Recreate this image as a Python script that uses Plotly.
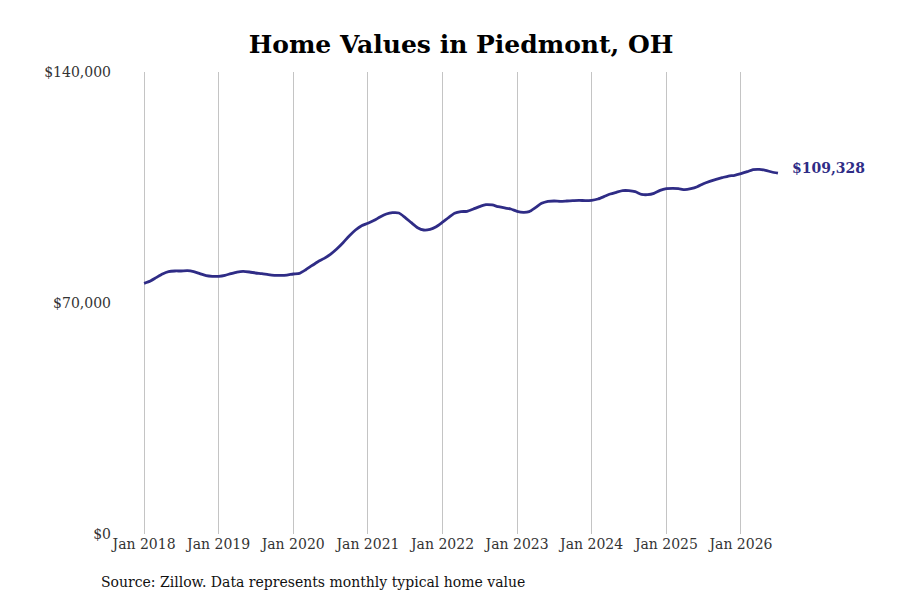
import plotly.graph_objects as go
import pandas as pd

months = pd.date_range("2018-01-01", "2026-07-01", freq="MS")
values = [
    75970, 76670, 77680, 78790, 79490, 79700, 79700, 79800, 79490, 78890, 78280, 78080,
    78080, 78380, 78890, 79390, 79590, 79390, 79090, 78890, 78580, 78380, 78380, 78480,
    78790, 79000, 80000, 81310, 82520, 83530, 84740, 86360, 88280, 90300, 92120, 93430,
    94150, 95050, 96060, 96970, 97370, 97270, 95960, 94350, 92830, 92120, 92320, 93130,
    94500, 95960, 97170, 97680, 97780, 98480, 99190, 99800, 99700, 99190, 98790, 98480,
    97780, 97480, 97680, 98890, 100200, 100810, 100910, 100810, 100910, 101010, 101110, 101010,
    101110, 101520, 102220, 103030, 103540, 104040, 104040, 103740, 102930, 102830, 103230, 104140,
    104650, 104750, 104650, 104340, 104650, 105250, 106160, 106870, 107480, 107980, 108480, 108690,
    109190, 109790, 110400, 110500, 110200, 109700, 109328,
]
tick_dates = pd.date_range("2018-01-01", "2026-01-01", freq="YS")
tick_labels = [d.strftime("Jan %Y") for d in tick_dates]
y_ticks = [0, 70000, 140000]
y_labels = ["$0", "$70,000", "$140,000"]
title = "Home Values in Piedmont, OH"
source = "Source: Zillow. Data represents monthly typical home value"

color = "#2f2c86"
font = "DejaVu Serif"

fig = go.Figure()
fig.add_trace(go.Scatter(
    x=months, y=values, mode="lines",
    line=dict(color=color, width=2.8, shape="spline", smoothing=0.6),
    hoverinfo="skip", showlegend=False,
))
fig.add_annotation(
    x=months[-1], y=values[-1], xref="x", yref="y",
    text="<b>${:,}</b>".format(values[-1]), showarrow=False,
    xanchor="left", yanchor="middle", xshift=12, yshift=5,
    font=dict(family=font, size=14, color=color),
)
fig.add_annotation(
    x=-0.0192, y=-0.104, xref="paper", yref="paper",
    text=source, showarrow=False, xanchor="left", yanchor="middle",
    font=dict(family=font, size=14, color="#111111"),
)

fig.update_layout(
    width=900, height=600,
    margin=dict(l=104, r=118, t=64, b=74),
    paper_bgcolor="white", plot_bgcolor="white",
    title=dict(text="<b>" + title + "</b>", x=453 / 900, xanchor="center", y=1 - 36 / 600, yanchor="middle",
               font=dict(family=font, size=25, color="#000000")),
    xaxis=dict(
        range=["2017-07-28", "2026-08-29"],
        tickvals=tick_dates, ticktext=tick_labels,
        showgrid=True, gridcolor="#c4c4c4", gridwidth=1,
        zeroline=False, showline=False, ticks="",
        tickfont=dict(family=font, size=14, color="#333333"),
    ),
    yaxis=dict(
        range=[0, 140000], tickvals=y_ticks, ticktext=y_labels,
        showgrid=False, zeroline=False, showline=False, ticks="",
        tickfont=dict(family=font, size=14, color="#333333"),
    ),
)

fig.write_html("out.html")
